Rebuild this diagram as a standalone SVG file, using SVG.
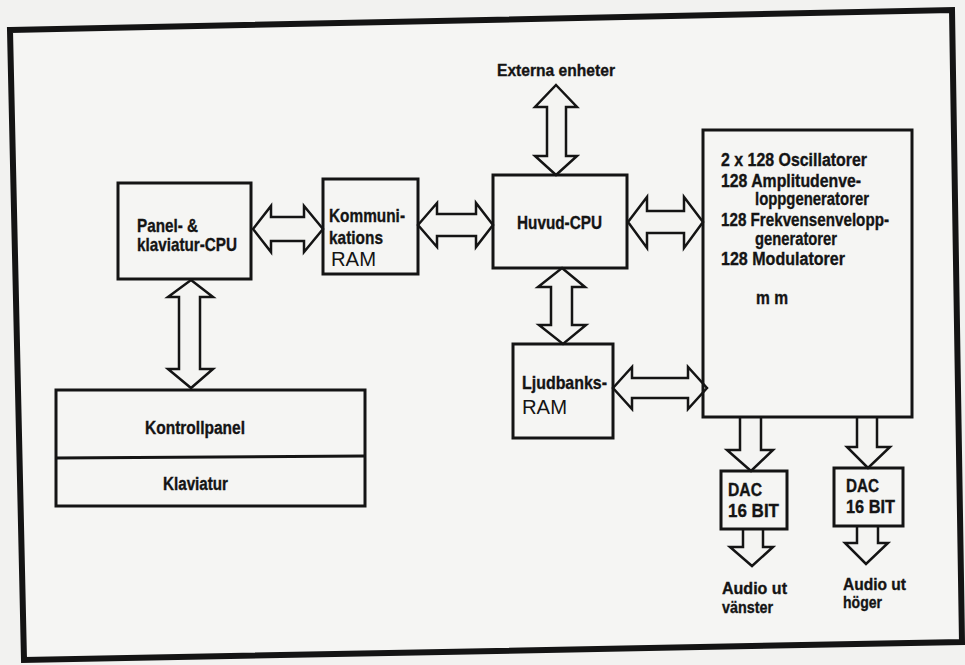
<svg xmlns="http://www.w3.org/2000/svg" width="965" height="665" viewBox="0 0 965 665">
<style>
.box{fill:none;stroke:#141414;stroke-width:3}
.arr{fill:#f4f4f2;stroke:#141414;stroke-width:2.5;stroke-linejoin:miter}
.t{font-family:"Liberation Sans",Arial,sans-serif;font-weight:bold;font-size:19px;fill:#141414;stroke:#141414;stroke-width:0.35}
.s{font-size:18px}
.a{font-size:17px}
.r{font-family:"Liberation Sans",Arial,sans-serif;font-weight:normal;font-size:20px;fill:#141414}
</style>
<rect x="0" y="0" width="965" height="665" fill="#f2f2f0"/>
<polygon id="frame" points="10,30 952,10 962,642 24,660" fill="#f5f5f3" stroke="#141414" stroke-width="6"/>

<g id="connectors">
<polygon class="arr" points="253,229 271,206 271,217 304,217 304,206 323,229 304,252 304,241 271,241 271,252"/>
<polygon class="arr" points="418,225 437,203 437,214 476,214 476,203 493,225 476,247 476,236 437,236 437,247"/>
<polygon class="arr" points="628,222 647,197 647,211 684,211 684,197 703,222 684,248 684,233 647,233 647,248"/>
<polygon class="arr" points="613,388 632,367 632,378 688,378 688,367 707,388 688,409 688,398 632,398 632,409"/>
<polygon class="arr" points="556,85 577,107 566,107 566,156 577,156 556,175 535,156 547,156 547,107 535,107"/>
<polygon class="arr" points="562,268 585,287 572,287 572,325 586,325 563,344 539,325 551,325 551,287 538,287"/>
<polygon class="arr" points="191,280 213,297 200,297 200,369 213,369 191,388 168,369 179,369 179,297 168,297"/>
<polyline class="arr" points="740,418 740,450 727,450 751,471 773,450 761,450 761,418"/>
<polyline class="arr" points="857,416 857,447 847,447 868,468 890,447 877,447 877,416"/>
<polyline class="arr" points="743,529 743,547 730,547 752,566 773,547 763,547 763,529"/>
<polyline class="arr" points="857,526 857,543 845,543 866,564 888,543 878,543 878,526"/>
</g>

<g id="externa">
<text class="t a" x="497" y="76" textLength="118" lengthAdjust="spacingAndGlyphs">Externa enheter</text>
</g>

<g id="panel-cpu">
<rect class="box" x="118" y="183" width="133" height="96"/>
<text class="t" x="137" y="232" textLength="61" lengthAdjust="spacingAndGlyphs">Panel- &amp;</text>
<text class="t" x="137" y="251" textLength="100" lengthAdjust="spacingAndGlyphs">klaviatur-CPU</text>
</g>

<g id="komm-ram">
<rect class="box" x="323" y="179" width="95" height="95"/>
<text class="t" x="329" y="222" textLength="76" lengthAdjust="spacingAndGlyphs">Kommuni-</text>
<text class="t" x="329" y="244" textLength="54" lengthAdjust="spacingAndGlyphs">kations</text>
<text class="r" x="331" y="266" textLength="45" lengthAdjust="spacingAndGlyphs">RAM</text>
</g>

<g id="huvud-cpu">
<rect class="box" x="493" y="175" width="134" height="93"/>
<text class="t" x="517" y="229" textLength="85" lengthAdjust="spacingAndGlyphs">Huvud-CPU</text>
</g>

<g id="synth">
<rect class="box" x="703" y="130" width="209" height="287"/>
<text class="t s" x="721" y="166" textLength="146" lengthAdjust="spacingAndGlyphs">2 x 128 Oscillatorer</text>
<text class="t s" x="721" y="187" textLength="140" lengthAdjust="spacingAndGlyphs">128 Amplitudenve-</text>
<text class="t s" x="755" y="205" textLength="114" lengthAdjust="spacingAndGlyphs">loppgeneratorer</text>
<text class="t s" x="721" y="226" textLength="168" lengthAdjust="spacingAndGlyphs">128 Frekvensenvelopp-</text>
<text class="t s" x="755" y="245" textLength="82" lengthAdjust="spacingAndGlyphs">generatorer</text>
<text class="t s" x="721" y="265" textLength="124" lengthAdjust="spacingAndGlyphs">128 Modulatorer</text>
<text class="t s" x="756" y="304" textLength="32" lengthAdjust="spacingAndGlyphs">m m</text>
</g>

<g id="ljudbanks-ram">
<rect class="box" x="513" y="344" width="100" height="94"/>
<text class="t" x="522" y="389" textLength="85" lengthAdjust="spacingAndGlyphs">Ljudbanks-</text>
<text class="r" x="522" y="414" textLength="45" lengthAdjust="spacingAndGlyphs">RAM</text>
</g>

<g id="kontrollpanel">
<rect class="box" x="56" y="390" width="309" height="116"/>
<line class="box" x1="56" y1="458" x2="365" y2="456"/>
<text class="t s" x="145" y="434" textLength="100" lengthAdjust="spacingAndGlyphs">Kontrollpanel</text>
<text class="t s" x="163" y="490" textLength="65" lengthAdjust="spacingAndGlyphs">Klaviatur</text>
</g>

<g id="dac-left">
<rect class="box" x="721" y="471" width="66" height="58"/>
<text class="t" x="728" y="496" textLength="34" lengthAdjust="spacingAndGlyphs">DAC</text>
<text class="t" x="728" y="517" textLength="51" lengthAdjust="spacingAndGlyphs">16 BIT</text>
</g>

<g id="dac-right">
<rect class="box" x="834" y="468" width="69" height="58"/>
<text class="t" x="846" y="492" textLength="33" lengthAdjust="spacingAndGlyphs">DAC</text>
<text class="t" x="846" y="513" textLength="49" lengthAdjust="spacingAndGlyphs">16 BIT</text>
</g>

<g id="audio-left">
<text class="t a" x="722" y="594" textLength="65" lengthAdjust="spacingAndGlyphs">Audio ut</text>
<text class="t a" x="722" y="613" textLength="51" lengthAdjust="spacingAndGlyphs">vänster</text>
</g>

<g id="audio-right">
<text class="t a" x="843" y="590" textLength="63" lengthAdjust="spacingAndGlyphs">Audio ut</text>
<text class="t a" x="843" y="608" textLength="39" lengthAdjust="spacingAndGlyphs">höger</text>
</g>
</svg>
